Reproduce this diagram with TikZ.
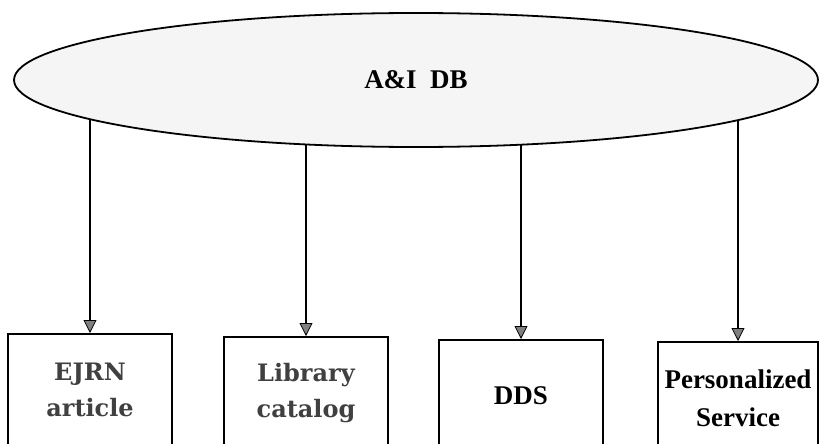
\documentclass[tikz,border=0pt]{standalone}
\usepackage{fontspec}
\setmainfont{Liberation Serif}
\newfontfamily\boxfont{DejaVu Serif}
\usetikzlibrary{shapes.geometric,arrows.meta,backgrounds}

\tikzset{
	dbnode/.style={ellipse, draw, line width=1.8pt, fill=black!4, minimum width=804pt, minimum height=134pt, font=\fontsize{27}{32}\selectfont\bfseries},
	svcbox/.style={draw, line width=1.8pt, anchor=north, minimum width=164pt, minimum height=112pt, align=center, font=\fontsize{27}{38}\selectfont\bfseries},
	oldbox/.style={svcbox, text=black!75, font=\fontsize{24}{36}\selectfont\boxfont\bfseries},
	feed/.style={line width=2.6pt, -{Triangle[width=13pt,length=13pt,line width=0.8pt,fill=black!50]}}
}

\begin{document}
\begin{tikzpicture}[x=1pt,y=-1pt]
	\useasboundingbox (0,0) rectangle (820,444);
	\clip (0,0) rectangle (820,444);
	\node[dbnode] (db) at (416,80) {A\&I~~DB};
	\node[oldbox] (ejrn) at (90,333) {EJRN\\article};
	\node[oldbox] (catalog) at (306,336) {Library\\catalog};
	\node[svcbox] (dds) at (521,339) {DDS};
	\node[svcbox, minimum width=160pt] (service) at (738,341) {Personalized\\Service};
	\begin{pgfonlayer}{background}
		\draw[feed] (ejrn.north |- db.center) -- (ejrn.north);
		\draw[feed] (catalog.north |- db.center) -- (catalog.north);
		\draw[feed] (dds.north |- db.center) -- (dds.north);
		\draw[feed] (service.north |- db.center) -- (service.north);
	\end{pgfonlayer}
\end{tikzpicture}
\end{document}
